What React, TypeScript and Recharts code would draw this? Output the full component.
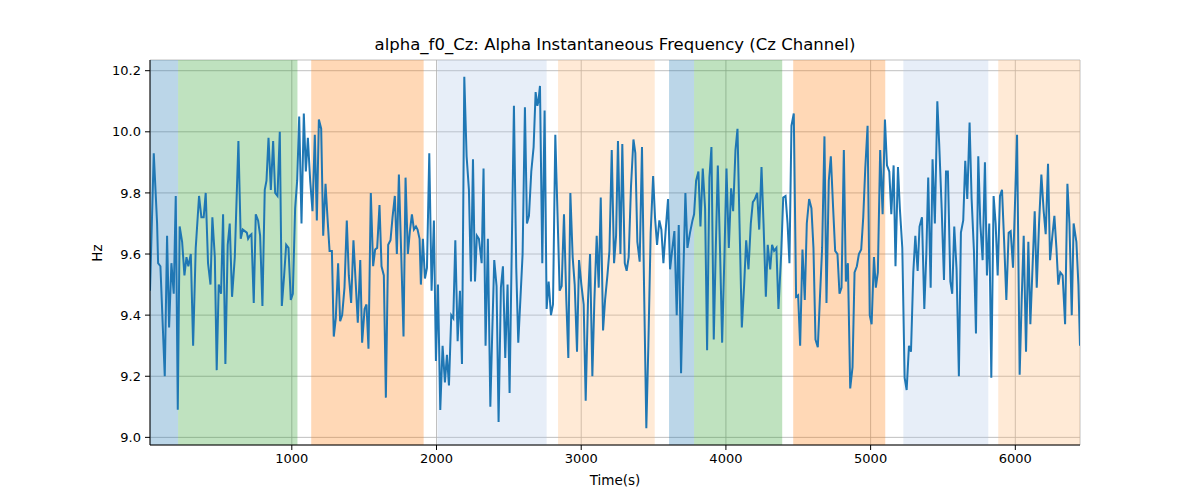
import React from 'react'
import {
  LineChart,
  Line,
  XAxis,
  YAxis,
  CartesianGrid,
  ReferenceArea,
} from 'recharts'

const times = [
  20, 46, 69, 76, 92, 122, 138, 152, 168, 184, 198, 212, 225, 242, 258, 272, 285, 302, 318, 336,
  359, 375, 391, 405, 421, 438, 451, 468, 481, 495, 511, 525, 541, 557, 571, 587, 606, 631, 647, 661,
  675, 689, 698, 710, 721, 737, 751, 767, 781, 797, 813, 825, 839, 855, 871, 885, 901, 917, 931, 947,
  961, 977, 993, 1007, 1023, 1037, 1051, 1067, 1083, 1097, 1111, 1127, 1143, 1159, 1173, 1187, 1203, 1217, 1233, 1249,
  1261, 1277, 1290, 1304, 1320, 1334, 1348, 1364, 1380, 1394, 1410, 1426, 1440, 1456, 1473, 1486, 1503, 1516, 1530, 1546,
  1562, 1576, 1590, 1606, 1620, 1636, 1650, 1666, 1682, 1696, 1712, 1726, 1740, 1756, 1772, 1786, 1802, 1816, 1830, 1844,
  1858, 1869, 1883, 1892, 1906, 1920, 1934, 1950, 1966, 1982, 1996, 2010, 2026, 2042, 2058, 2072, 2086, 2102, 2116, 2130,
  2146, 2162, 2176, 2192, 2208, 2224, 2238, 2252, 2266, 2279, 2293, 2312, 2325, 2339, 2355, 2372, 2385, 2399, 2415, 2429,
  2445, 2459, 2475, 2491, 2505, 2535, 2551, 2565, 2595, 2611, 2625, 2639, 2655, 2671, 2685, 2697, 2704, 2715, 2731, 2747,
  2761, 2775, 2791, 2805, 2821, 2851, 2865, 2881, 2897, 2911, 2925, 2941, 2955, 2971, 2985, 3001, 3017, 3031, 3047, 3061,
  3077, 3091, 3107, 3121, 3135, 3151, 3165, 3181, 3195, 3211, 3227, 3241, 3254, 3271, 3284, 3301, 3314, 3328, 3344, 3361,
  3374, 3388, 3404, 3420, 3434, 3450, 3464, 3480, 3497, 3510, 3524, 3540, 3554, 3568, 3584, 3600, 3614, 3628, 3644, 3660,
  3674, 3690, 3704, 3720, 3734, 3752, 3769, 3780, 3794, 3810, 3824, 3840, 3856, 3870, 3886, 3900, 3916, 3930, 3944, 3960,
  3974, 3990, 4004, 4020, 4036, 4050, 4066, 4080, 4094, 4110, 4126, 4140, 4156, 4172, 4186, 4200, 4216, 4230, 4246, 4260,
  4276, 4289, 4306, 4319, 4333, 4349, 4363, 4382, 4396, 4412, 4426, 4439, 4453, 4469, 4485, 4499, 4513, 4529, 4545, 4559,
  4575, 4591, 4605, 4619, 4635, 4649, 4665, 4681, 4695, 4711, 4725, 4741, 4755, 4771, 4785, 4799, 4815, 4829, 4843, 4859,
  4875, 4889, 4905, 4919, 4935, 4949, 4963, 4979, 4994, 5007, 5023, 5036, 5050, 5066, 5083, 5099, 5113, 5129, 5143, 5159,
  5172, 5189, 5202, 5219, 5235, 5249, 5265, 5279, 5295, 5309, 5325, 5338, 5355, 5371, 5385, 5398, 5415, 5428, 5444, 5461,
  5474, 5491, 5507, 5521, 5534, 5551, 5564, 5578, 5594, 5610, 5624, 5640, 5654, 5668, 5684, 5698, 5714, 5728, 5744, 5758,
  5774, 5790, 5804, 5820, 5834, 5850, 5864, 5878, 5894, 5908, 5922, 5938, 5954, 5968, 5984, 6000, 6012, 6030, 6044, 6058,
  6074, 6090, 6104, 6120, 6134, 6148, 6164, 6180, 6196, 6210, 6226, 6240, 6254, 6270, 6284, 6297, 6311, 6327, 6344, 6360,
  6374, 6390, 6403, 6422, 6436, 6447,
]

const hz = [
  9.48, 9.93, 9.70, 9.57, 9.56, 9.20, 9.66, 9.36, 9.57, 9.47, 9.79, 9.09, 9.69, 9.64, 9.53, 9.59, 9.56, 9.60, 9.30, 9.62,
  9.79, 9.72, 9.72, 9.80, 9.57, 9.50, 9.72, 9.59, 9.22, 9.50, 9.47, 9.73, 9.24, 9.63, 9.70, 9.46, 9.59, 9.97, 9.65, 9.68,
  9.675, 9.67, 9.65, 9.66, 9.665, 9.44, 9.73, 9.71, 9.66, 9.43, 9.81, 9.84, 9.98, 9.81, 9.97, 9.80, 9.79, 10.00, 9.43, 9.53,
  9.63, 9.62, 9.45, 9.47, 9.75, 9.84, 10.05, 9.70, 10.06, 9.87, 9.98, 9.84, 9.74, 9.99, 9.71, 10.04, 10.01, 9.66, 9.83, 9.70,
  9.61, 9.61, 9.33, 9.39, 9.57, 9.38, 9.40, 9.49, 9.71, 9.53, 9.44, 9.645, 9.52, 9.375, 9.58, 9.31, 9.42, 9.435, 9.29, 9.80,
  9.56, 9.615, 9.62, 9.76, 9.56, 9.53, 9.13, 9.63, 9.645, 9.72, 9.79, 9.60, 9.86, 9.60, 9.33, 9.85, 9.60, 9.675, 9.73, 9.68,
  9.69, 9.68, 9.65, 9.50, 9.65, 9.52, 9.555, 9.93, 9.48, 9.71, 9.25, 9.50, 9.09, 9.30, 9.18, 9.27, 9.17, 9.40, 9.39, 9.645,
  9.315, 9.48, 9.24, 10.18, 9.92, 9.81, 9.51, 9.91, 9.51, 9.66, 9.65, 9.57, 9.88, 9.30, 9.65, 9.10, 9.34, 9.58, 9.495, 9.05,
  9.49, 9.56, 9.26, 9.50, 9.145, 10.085, 9.555, 9.31, 9.60, 10.08, 9.70, 9.725, 9.87, 9.95, 10.13, 10.085, 10.10, 10.15, 9.57, 10.07,
  9.42, 9.51, 9.40, 9.435, 9.99, 9.48, 9.495, 9.73, 9.45, 9.26, 9.80, 9.59, 9.50, 9.28, 9.58, 9.50, 9.435, 9.12, 9.45, 9.60,
  9.20, 9.45, 9.66, 9.49, 9.785, 9.35, 9.45, 9.53, 9.61, 9.94, 9.57, 9.66, 9.97, 9.60, 9.96, 9.57, 9.545, 9.59, 9.82, 9.975,
  9.93, 9.64, 9.575, 9.95, 9.50, 9.03, 9.30, 9.67, 9.855, 9.72, 9.63, 9.71, 9.68, 9.57, 9.68, 9.78, 9.55, 9.61, 9.675, 9.40,
  9.695, 9.21, 9.50, 9.80, 9.62, 9.67, 9.71, 9.73, 9.84, 9.87, 9.69, 9.88, 9.75, 9.285, 9.85, 9.95, 9.32, 9.62, 9.89, 9.60,
  9.31, 9.60, 9.88, 9.62, 9.815, 9.74, 9.94, 10.01, 9.70, 9.36, 9.50, 9.645, 9.55, 9.70, 9.77, 9.78, 9.80, 9.68, 9.885, 9.70,
  9.46, 9.63, 9.55, 9.63, 9.61, 9.62, 9.42, 9.60, 9.785, 9.79, 9.70, 9.57, 10.02, 10.06, 9.46, 9.465, 9.30, 9.615, 9.45, 9.70,
  9.78, 9.75, 9.62, 9.32, 9.295, 9.45, 9.62, 9.985, 9.44, 9.84, 9.92, 9.75, 9.61, 9.60, 9.47, 9.49, 9.94, 9.51, 9.57, 9.16,
  9.23, 9.54, 9.56, 9.60, 9.615, 9.72, 9.88, 10.02, 9.40, 9.37, 9.59, 9.49, 9.54, 9.94, 9.73, 10.04, 9.89, 9.87, 9.73, 9.89,
  9.56, 9.885, 9.75, 9.62, 9.195, 9.155, 9.30, 9.28, 9.54, 9.66, 9.545, 9.69, 9.72, 9.42, 9.60, 9.85, 9.49, 9.91, 9.70, 10.10,
  9.96, 9.75, 9.515, 9.87, 9.87, 9.51, 9.47, 9.69, 9.55, 9.20, 9.67, 9.71, 9.905, 9.78, 10.03, 9.78, 9.61, 9.34, 9.92, 9.70,
  9.58, 9.90, 9.53, 9.70, 9.195, 9.79, 9.70, 9.53, 9.79, 9.81, 9.65, 9.45, 9.67, 9.675, 9.555, 9.80, 9.99, 9.205, 9.45, 9.66,
  9.28, 9.64, 9.37, 9.57, 9.74, 9.49, 9.70, 9.86, 9.74, 9.665, 9.895, 9.58, 9.65, 9.725, 9.62, 9.50, 9.54, 9.53, 9.37, 9.83,
  9.70, 9.40, 9.70, 9.64, 9.50, 9.30,
]

// shaded segments (start, end, color)
const bandStarts = [20, 214, 1134, 2006, 2840, 3607, 3780, 4465, 5226, 5882]
const bandEnds = [214, 1039, 1911, 2761, 3508, 3780, 4389, 5101, 5813, 6447]
const bandColors = ['#1f77b4', '#2ca02c', '#ff7f0e', '#aec7e8', '#ffbb78', '#1f77b4', '#2ca02c', '#ff7f0e', '#aec7e8', '#ffbb78']

const xTicks = [1000, 2000, 3000, 4000, 5000, 6000]
const yTicks = [9.0, 9.2, 9.4, 9.6, 9.8, 10.0, 10.2]

const data = times.map((t, i) => ({ t, hz: hz[i] }))

const FONT = '"DejaVu Sans", sans-serif'

export default function App() {
  const tickStyle = { fill: '#000', fontSize: 13, fontFamily: FONT }
  return (
    <div style={{ position: 'absolute', left: 0, top: 0, width: 1200, height: 500, background: '#fff', fontFamily: FONT }}>
      <LineChart width={1200} height={500} data={data} margin={{ top: 60, right: 120, bottom: 0, left: 0 }}>
        <CartesianGrid stroke="#b0b0b0" strokeWidth={0.8} />
        {bandStarts.map((s, i) => (
          <ReferenceArea
            key={i}
            x1={s}
            x2={bandEnds[i]}
            fill={bandColors[i]}
            fillOpacity={0.3}
            stroke="none"
            ifOverflow="hidden"
          />
        ))}
        <XAxis
          dataKey="t"
          type="number"
          domain={[20, 6447]}
          ticks={xTicks}
          allowDataOverflow
          height={55}
          tick={tickStyle}
          tickSize={5}
          tickMargin={4}
          axisLine={{ stroke: '#000' }}
          tickLine={{ stroke: '#000' }}
        />
        <XAxis
          xAxisId="top"
          orientation="top"
          dataKey="t"
          type="number"
          domain={[20, 6447]}
          height={0}
          tick={false}
          tickLine={false}
          axisLine={{ stroke: '#000' }}
        />
        <YAxis
          type="number"
          domain={[8.975, 10.235]}
          ticks={yTicks}
          allowDataOverflow
          width={150}
          tick={tickStyle}
          tickSize={5}
          tickMargin={4}
          tickFormatter={(v) => v.toFixed(1)}
          axisLine={{ stroke: '#000' }}
          tickLine={{ stroke: '#000' }}
        />
        <YAxis
          yAxisId="right"
          orientation="right"
          type="number"
          domain={[8.975, 10.235]}
          width={0}
          tick={false}
          tickLine={false}
          axisLine={{ stroke: '#000' }}
        />
        <Line
          type="linear"
          dataKey="hz"
          stroke="#1f77b4"
          strokeWidth={2}
          dot={false}
          isAnimationActive={false}
        />
      </LineChart>
      <div style={{ position: 'absolute', left: 150, width: 930, top: 35, textAlign: 'center', fontSize: 16.5, color: '#000' }}>
        alpha_f0_Cz: Alpha Instantaneous Frequency (Cz Channel)
      </div>
      <div style={{ position: 'absolute', left: 150, width: 930, top: 472, textAlign: 'center', fontSize: 13.5, color: '#000' }}>
        Time(s)
      </div>
      <div
        style={{
          position: 'absolute',
          left: 97,
          top: 253,
          transform: 'translate(-50%, -50%) rotate(-90deg)',
          fontSize: 13.5,
          color: '#000',
          whiteSpace: 'nowrap',
        }}
      >
        Hz
      </div>
    </div>
  )
}
